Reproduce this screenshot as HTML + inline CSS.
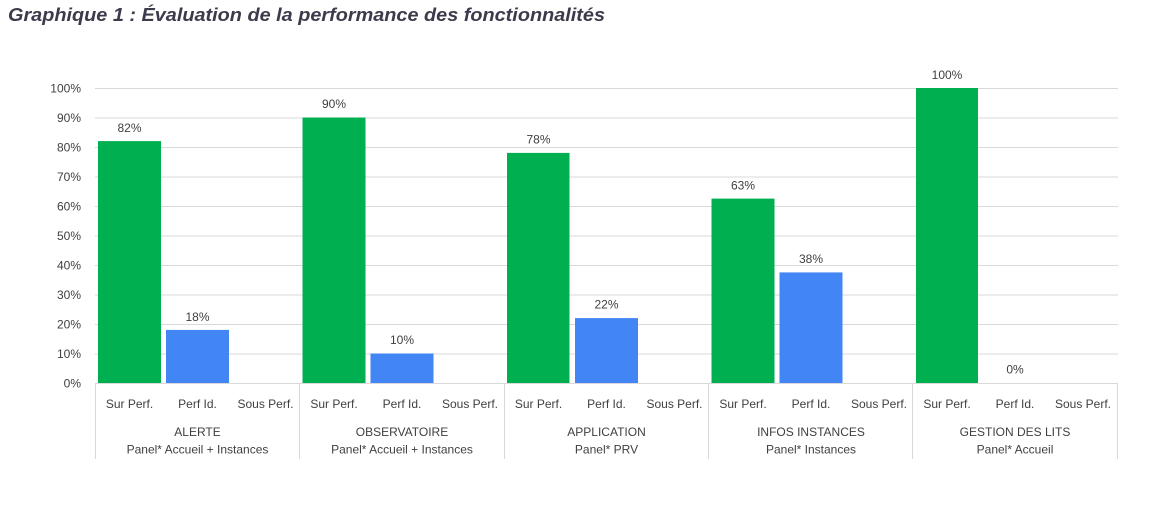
<!DOCTYPE html>
<html>
<head>
<meta charset="utf-8">
<style>
html,body{margin:0;padding:0;background:#fff;}
svg{display:block;}
text{font-family:"Liberation Sans",sans-serif;}
</style>
</head>
<body>
<svg width="1163" height="507" viewBox="0 0 1163 507" xmlns="http://www.w3.org/2000/svg">
<rect width="1163" height="507" fill="#fff"/>
<text x="8" y="21" font-size="18" font-weight="bold" font-style="italic" fill="#3b3b4b" textLength="597" lengthAdjust="spacingAndGlyphs">Graphique 1 : Évaluation de la performance des fonctionnalités</text>

<!-- gridlines -->
<g stroke="#d9d9d9" stroke-width="1">
<line x1="95" x2="1118" y1="88.5" y2="88.5"/>
<line x1="95" x2="1118" y1="118" y2="118"/>
<line x1="95" x2="1118" y1="147.5" y2="147.5"/>
<line x1="95" x2="1118" y1="177" y2="177"/>
<line x1="95" x2="1118" y1="206.5" y2="206.5"/>
<line x1="95" x2="1118" y1="236" y2="236"/>
<line x1="95" x2="1118" y1="265.5" y2="265.5"/>
<line x1="95" x2="1118" y1="295" y2="295"/>
<line x1="95" x2="1118" y1="324.5" y2="324.5"/>
<line x1="95" x2="1118" y1="354" y2="354"/>
<line x1="95" x2="1118" y1="383.5" y2="383.5"/>
<line x1="95.5" x2="95.5" y1="383" y2="459"/>
<line x1="299.5" x2="299.5" y1="383" y2="459"/>
<line x1="504.5" x2="504.5" y1="383" y2="459"/>
<line x1="708.5" x2="708.5" y1="383" y2="459"/>
<line x1="912.5" x2="912.5" y1="383" y2="459"/>
<line x1="1117.5" x2="1117.5" y1="383" y2="459"/>
</g>

<!-- y tick labels -->
<g font-size="12" fill="#404040" text-anchor="end">
<text x="81" y="92.5">100%</text>
<text x="81" y="122">90%</text>
<text x="81" y="151.5">80%</text>
<text x="81" y="181">70%</text>
<text x="81" y="210.5">60%</text>
<text x="81" y="240">50%</text>
<text x="81" y="269.5">40%</text>
<text x="81" y="299">30%</text>
<text x="81" y="328.5">20%</text>
<text x="81" y="358">10%</text>
<text x="81" y="387.5">0%</text>
</g>

<!-- bars -->
<g>
<rect x="98" y="141.1" width="63" height="241.9" fill="#00b050"/>
<rect x="166" y="329.9" width="63" height="53.1" fill="#4285f4"/>

<rect x="302.5" y="117.5" width="63" height="265.5" fill="#00b050"/>
<rect x="370.5" y="353.5" width="63" height="29.5" fill="#4285f4"/>

<rect x="507" y="152.9" width="62.5" height="230.1" fill="#00b050"/>
<rect x="575" y="318.1" width="63" height="64.9" fill="#4285f4"/>

<rect x="711.5" y="198.6" width="63" height="184.4" fill="#00b050"/>
<rect x="779.5" y="272.4" width="63" height="110.6" fill="#4285f4"/>

<rect x="916" y="88" width="62" height="295" fill="#00b050"/>
</g>

<!-- data labels -->
<g font-size="12" fill="#404040" text-anchor="middle">
<text x="129.5" y="132">82%</text>
<text x="197.5" y="321">18%</text>
<text x="334" y="108">90%</text>
<text x="402" y="344">10%</text>
<text x="538.5" y="143.5">78%</text>
<text x="606.5" y="308.5">22%</text>
<text x="743" y="189.5">63%</text>
<text x="811" y="263">38%</text>
<text x="947" y="79">100%</text>
<text x="1015" y="373.5">0%</text>
</g>

<!-- category labels -->
<g font-size="12" fill="#404040" text-anchor="middle">
<text x="129.5" y="408">Sur Perf.</text>
<text x="197.5" y="408">Perf Id.</text>
<text x="265.5" y="408">Sous Perf.</text>
<text x="334" y="408">Sur Perf.</text>
<text x="402" y="408">Perf Id.</text>
<text x="470" y="408">Sous Perf.</text>
<text x="538.5" y="408">Sur Perf.</text>
<text x="606.5" y="408">Perf Id.</text>
<text x="674.5" y="408">Sous Perf.</text>
<text x="743" y="408">Sur Perf.</text>
<text x="811" y="408">Perf Id.</text>
<text x="879" y="408">Sous Perf.</text>
<text x="947" y="408">Sur Perf.</text>
<text x="1015" y="408">Perf Id.</text>
<text x="1083" y="408">Sous Perf.</text>

<text x="197.5" y="436">ALERTE</text>
<text x="197.5" y="453.5">Panel* Accueil + Instances</text>
<text x="402" y="436">OBSERVATOIRE</text>
<text x="402" y="453.5">Panel* Accueil + Instances</text>
<text x="606.5" y="436">APPLICATION</text>
<text x="606.5" y="453.5">Panel* PRV</text>
<text x="811" y="436">INFOS INSTANCES</text>
<text x="811" y="453.5">Panel* Instances</text>
<text x="1015" y="436">GESTION DES LITS</text>
<text x="1015" y="453.5">Panel* Accueil</text>
</g>
</svg>
</body>
</html>
